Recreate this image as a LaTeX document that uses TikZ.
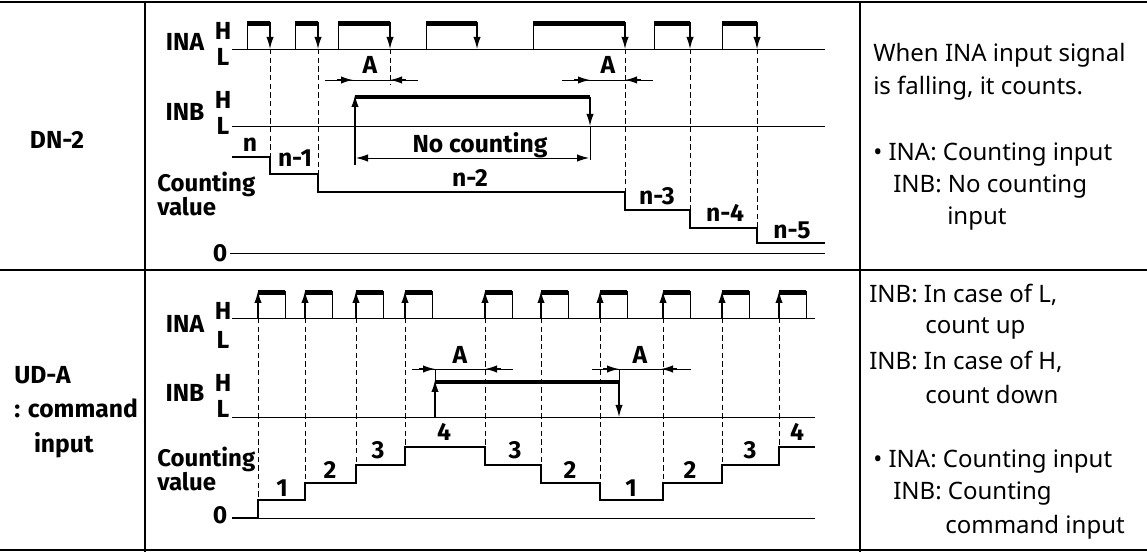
\documentclass[tikz,border=0pt]{standalone}
\usepackage{fontspec}
\setmainfont{Noto Sans}
\newfontfamily\lf{Fira Sans}
\usetikzlibrary{arrows.meta}
\begin{document}
\begin{tikzpicture}[x=0.75pt,y=-0.75pt,
  lbl/.style={font=\lf\bfseries\fontsize{18.5}{16}\selectfont,inner sep=0pt},
  desc/.style={font=\fontsize{18}{17}\selectfont,inner sep=0pt,anchor=west},
  wave/.style={line width=1.3pt},
  thin/.style={line width=0.7pt},
  hbar/.style={line width=3.2pt},
  dsh/.style={dashed,line width=0.5pt,dash pattern=on 4pt off 2.5pt},
  tip/.style={-{Latex[length=9pt,width=5.5pt]},line width=0.9pt}]
\useasboundingbox (0,0) rectangle (1147,552);
\draw[line width=0.8pt] (0,2)--(1147,2) (0,270)--(1147,270) (0,550)--(1147,550) (145,2)--(145,552) (860,2)--(860,552);
% left labels
\node[lbl,font=\lf\bfseries\fontsize{18.5}{17}\selectfont] (dn) at (57,140) {DN-2};
\node[lbl,anchor=west,font=\lf\bfseries\fontsize{18.5}{17}\selectfont,align=left] (ud) at (14,412) {UD-A\\[9pt]: command\\[9pt]\hspace*{0.8em}input};
% ===== top =====
\foreach \t/\y/\n in {INA/42/a,INB/112/b}{\node[lbl] (\n) at (185,\y) {\t};}
\foreach \y/\t/\n in {31/H/h1,57/L/l1,100/H/h2,126/L/l2}{\node[lbl] (\n) at (223,\y) {\t};}
\node[lbl,align=left,anchor=west,font=\lf\bfseries\fontsize{18}{15}\selectfont] (cv1) at (157,194) {Counting\\value};
\node[lbl] (z1) at (220,253) {0};
\draw[thin] (232,49)--(825,49);
\foreach \a/\b in {247/270,295/318,338/390,426/477,533/625,654/690,722/757}{
  \draw[thin] (\a,49)--(\a,22);
  \draw[hbar] (\a,23.5)--(\b,23.5);
  \draw[thin,tip] (\b,22)--(\b,49);}
\foreach \x/\y in {270/174,318/192,625/210,690/228,757/243}{\draw[dsh] (\x,49)--(\x,\y);}
\draw[dsh] (390,49)--(390,85);
\draw[thin] (232,126)--(825,126);
\draw[hbar] (355,97)--(590,97);
\draw[thin,tip] (355,165)--(355,95);
\draw[thin,tip] (590,97)--(590,126);
\draw[thin] (590,126)--(590,160);
\draw[thin,{Latex[length=9pt,width=5.5pt]}-{Latex[length=9pt,width=5.5pt]}] (356,158)--(589,158);
\node[lbl] (nc) at (480,145) {No counting};
% A arrows top
\foreach \p/\q in {353/390,590/625}{
  \draw[thin] (\p-28,80)--(\q+28,80);
  \draw[thin,tip] (\p-16,80)--(\p,80);
  \draw[thin,tip] (\q+16,80)--(\q,80);}
\node[lbl] (a1) at (370,65) {A};
\node[lbl] (a2) at (608,65) {A};
\draw[wave] (232,157)-|(270,174)-|(318,192)-|(625,210)-|(690,228)-|(757,243)--(825,243);
\draw[thin] (230,253)--(825,253);
\foreach \x/\y/\t/\n in {250/145/n/c1,295/158/n-1/c2,470/178/n-2/c3,657/196/n-3/c4,725/213/n-4/c5,792/230/n-5/c6}{\node[lbl] (\n) at (\x,\y) {\t};}
% right text top
\node[desc] (t1) at (873,55) {When INA input signal};
\node[desc] (t2) at (873,88) {is falling, it counts.};
\node[desc] (t3) at (873,155) {• INA: Counting input};
\node[desc] (t4) at (893,187) {INB: No counting};
\node[desc] (t5) at (947,219) {input};
% ===== bottom =====
\node[lbl] (a3) at (185,324) {INA};
\node[lbl] (b3) at (185,393) {INB};
\foreach \y/\t/\n in {311/H/h3,340/L/l3,383/H/h4,409/L/l4}{\node[lbl] (\n) at (223,\y) {\t};}
\node[lbl,align=left,anchor=west,font=\lf\bfseries\fontsize{18}{15}\selectfont] (cv2) at (157,469) {Counting\\value};
\node[lbl] (z2) at (220,515) {0};
\draw[thin] (232,318)--(815,318);
\foreach \x in {258,305,356,405,485,541,600,663,722,779}{
  \draw[hbar] (\x,292.5)--(\x+27,292.5);
  \draw[thin] (\x+27,291)--(\x+27,318);
  \draw[thin,tip] (\x,318)--(\x,291);}
\foreach \x/\y in {258/500,305/483,356/465,405/447,485/447,541/465,600/483,663/483,722/465,779/447}{\draw[dsh] (\x,318)--(\x,\y);}
\draw[thin] (232,417)--(815,417);
\draw[hbar] (435,382)--(619,382);
\draw[thin,tip] (435,417)--(435,380);
\draw[thin,tip] (619,382)--(619,417);
\foreach \p/\q/\l/\r in {435/485/412/513,619/661/592/691}{
  \draw[thin] (\l,369)--(\r,369);
  \draw[thin,tip] (\p-16,369)--(\p,369);
  \draw[thin,tip] (\q+16,369)--(\q,369);
  \draw[thin] (\p,369)--(\p,382);}
\node[lbl] (a4) at (460,355) {A};
\node[lbl] (a5) at (640,355) {A};
\draw[thin] (232,518)--(815,518);
\draw[wave] (232,518)-|(258,500)-|(305,483)-|(356,465)-|(405,447)-|(485,465)-|(541,483)-|(600,500)-|(663,483)-|(722,465)-|(779,447)--(815,447);
\foreach \x/\y/\t/\n in {282/488/1/d1,330/470/2/d2,378/450/3/d3,444/432/4/d4,515/450/3/d5,570/470/2/d6,631/488/1/d7,690/470/2/d8,750/450/3/d9,797/432/4/d10}{\node[lbl] (\n) at (\x,\y) {\t};}
% right text bottom
\node[desc] (u1) at (869,295) {INB: In case of L,};
\node[desc] (u2) at (925,328) {count up};
\node[desc] (u3) at (869,362) {INB: In case of H,};
\node[desc] (u4) at (925,395) {count down};
\node[desc] (u5) at (873,462) {• INA: Counting input};
\node[desc] (u6) at (893,494) {INB: Counting};
\node[desc] (u7) at (945,527) {command input};
\end{tikzpicture}
\end{document}
